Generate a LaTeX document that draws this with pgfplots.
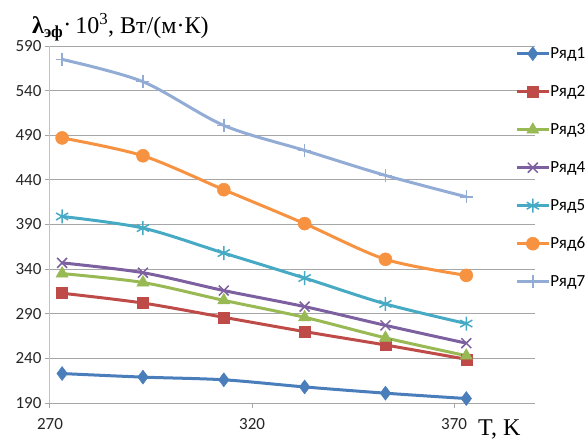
\documentclass[border=0pt]{standalone}
\usepackage{fontspec}
\setmainfont{Liberation Serif}
\newfontfamily\calibri{Carlito}
\usepackage{pgfplots}
\pgfplotsset{compat=1.18}
\definecolor{c1}{HTML}{4A7EBB}
\definecolor{c2}{HTML}{BE4B48}
\definecolor{c3}{HTML}{98B954}
\definecolor{c4}{HTML}{7D60A0}
\definecolor{c5}{HTML}{46AAC5}
\definecolor{c6}{HTML}{F69240}
\definecolor{c7}{HTML}{93ACD6}
\definecolor{gridc}{HTML}{A6A6A6}
\begin{document}
\begin{tikzpicture}
\useasboundingbox (-50pt,-36pt) rectangle (538pt,403pt);
\begin{axis}[
  at={(0pt,0pt)}, anchor=south west,
  scale only axis, width=485pt, height=357pt,
  xmin=270, xmax=390, ymin=190, ymax=590,
  xtick={270,320,370}, ytick={190,240,...,590},
  /pgf/number format/assume math mode=true,
  axis x line*=bottom, axis y line*=left,
  x axis line style={-, gridc, line width=1pt},
  y axis line style={-, gridc!70, line width=1pt},
  tick style={gridc, line width=1pt},
  major tick length=5pt, tick align=outside,
  ymajorgrids, major grid style={gridc, line width=1pt},
  ticklabel style={font=\calibri\fontsize{17}{17}\selectfont, text=black!85},
  xticklabel style={yshift=-7pt},
  legend style={draw=none, fill=none, at={(rel axis cs:0.959,1.0)}, anchor=north west,
    font=\calibri\fontsize{17}{17}\selectfont, inner sep=0pt, row sep=23pt,
    nodes={inner sep=0pt, text height=12pt, text depth=3pt, anchor=west},
    /tikz/every even column/.append style={column sep=2pt}},
  legend image code/.code={\draw[mark repeat=2,mark phase=2] plot coordinates {(0pt,0pt)(16pt,0pt)(32pt,0pt)};},
  every axis plot/.append style={line width=3pt, smooth, tension=0.5},
  clip=false,
]
\addplot[c1, mark=diamond*, mark size=7pt, mark options={solid, line width=0.5pt}] coordinates {(273,223)(293,219)(313,216)(333,208)(353,201)(373,195)};
\addlegendentry{Ряд1}
\addplot[c2, mark=square*, mark size=5.5pt, mark options={solid, line width=0.5pt}] coordinates {(273,313)(293,302)(313,286)(333,270)(353,255)(373,239)};
\addlegendentry{Ряд2}
\addplot[c3, mark=triangle*, mark size=7pt, mark options={solid, line width=0.5pt}] coordinates {(273,335)(293,325)(313,305)(333,286)(353,263)(373,243)};
\addlegendentry{Ряд3}
\addplot[c4, mark=x, mark size=7pt, mark options={solid, line width=1.5pt}] coordinates {(273,347)(293,336)(313,316)(333,298)(353,277)(373,257)};
\addlegendentry{Ряд4}
\addplot[c5, mark=asterisk, mark size=7pt, mark options={solid, line width=1.5pt}] coordinates {(273,399)(293,386)(313,358)(333,330)(353,301)(373,279)};
\addlegendentry{Ряд5}
\addplot[c6, mark=*, mark size=6.5pt, mark options={solid, line width=0.5pt}] coordinates {(273,487)(293,467)(313,429)(333,391)(353,351)(373,333)};
\addlegendentry{Ряд6}
\addplot[c7, mark=+, mark size=6.5pt, mark options={solid, line width=1.5pt}] coordinates {(273,575)(293,550)(313,501)(333,473)(353,445)(373,421)};
\addlegendentry{Ряд7}
\end{axis}
\node[anchor=base west, font=\fontsize{24}{24}\selectfont, inner sep=0pt] at (-18pt,369pt)
  {\textbf{λ}\textsubscript{\textbf{эф}}\raisebox{1pt}{·}\,10\textsuperscript{3}, Вт/(м·К)};
\node[anchor=base west, font=\fontsize{24}{24}\selectfont, inner sep=0pt] at (428pt,-32pt) {T, K};
\end{tikzpicture}
\end{document}
